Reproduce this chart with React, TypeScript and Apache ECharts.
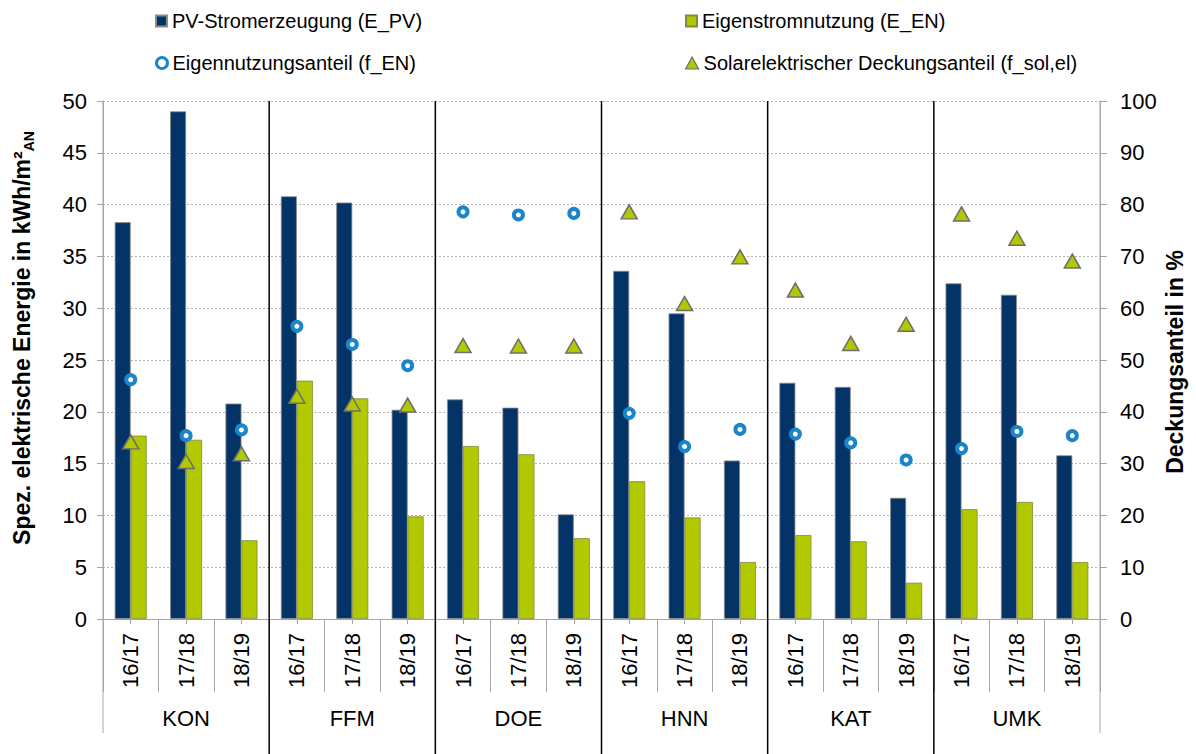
import React, { useEffect, useRef } from 'react';
import * as echarts from 'echarts';

const groups = ['KON', 'FFM', 'DOE', 'HNN', 'KAT', 'UMK'];
const years = ['16/17', '17/18', '18/19'];

const ePV = [38.3, 49.0, 20.8, 40.8, 40.2, 20.2, 21.2, 20.4, 10.1, 33.6, 29.5, 15.3, 22.8, 22.4, 11.7, 32.4, 31.3, 15.8];
const eEN = [17.7, 17.3, 7.6, 23.0, 21.3, 9.9, 16.7, 15.9, 7.8, 13.3, 9.8, 5.5, 8.1, 7.5, 3.5, 10.6, 11.3, 5.5];
const fEN = [46.2, 35.4, 36.5, 56.5, 53.0, 48.9, 78.6, 78.0, 78.3, 39.7, 33.3, 36.6, 35.7, 34.0, 30.7, 32.9, 36.2, 35.4];
const fSol = [34.2, 30.4, 31.9, 43.0, 41.5, 41.3, 52.8, 52.7, 52.7, 78.6, 60.9, 69.9, 63.5, 53.2, 56.9, 78.2, 73.5, 69.1];

const leftTicks = { min: 0, max: 50, interval: 5 };
const rightTicks = { min: 0, max: 100, interval: 10 };

const NAME_PV = 'PV-Stromerzeugung (E_PV)';
const NAME_EN = 'Eigenstromnutzung (E_EN)';
const NAME_FEN = 'Eigennutzungsanteil (f_EN)';
const NAME_FSOL = 'Solarelektrischer Deckungsanteil (f_sol,el)';

const FONT = '"Liberation Sans", Arial, sans-serif';
const BLUE = '#043467';
const GREEN = '#B2C800';
const RING = '#1A86C9';
const GRAY = '#A6A6A6';

export default function App() {
  const ref = useRef<HTMLDivElement>(null);

  useEffect(() => {
    if (!ref.current) return;
    const chart = echarts.init(ref.current, null, { renderer: 'svg' });

    const cats = groups.flatMap((g) => years.map((y) => g + '|' + y));
    const n = years.length;
    const boundaries: number[][] = [[0, -0.5, 1]];
    groups.forEach((g, i) => {
      const last = (i + 1) * n - 1;
      boundaries.push([last, 0.5, i === groups.length - 1 ? 1 : 0]);
    });

    const legendBase = {
      padding: 0,
      itemWidth: 11,
      itemHeight: 11,
      textStyle: { fontSize: 20, color: '#000', fontFamily: FONT },
      selectedMode: false,
    };

    const option: any = {
      animation: false,
      textStyle: { fontFamily: FONT },
      grid: { left: 103, right: 96, top: 101, bottom: 135 },
      legend: [
        { ...legendBase, data: [{ name: NAME_PV, icon: 'rect' }], left: 155, top: 11 },
        { ...legendBase, data: [{ name: NAME_EN, icon: 'rect' }], left: 685, top: 11 },
        { ...legendBase, data: [{ name: NAME_FEN, icon: 'circle' }], left: 155, top: 53, itemStyle: { borderWidth: 3 } },
        { ...legendBase, data: [{ name: NAME_FSOL, icon: 'triangle' }], left: 685, top: 53, itemWidth: 13, itemHeight: 12, itemStyle: { borderWidth: 1.2 } },
      ],
      xAxis: [
        {
          type: 'category',
          data: cats,
          position: 'bottom',
          axisLine: { show: true, lineStyle: { color: GRAY, width: 1 } },
          axisTick: { show: true, interval: 0, length: 73, lineStyle: { color: GRAY, width: 1 } },
          axisLabel: {
            interval: 0,
            rotate: 90,
            margin: 14,
            fontSize: 22,
            color: '#000',
            fontFamily: FONT,
            formatter: (v: string) => v.split('|')[1],
          },
          splitLine: { show: false },
        },
        {
          type: 'category',
          data: cats,
          position: 'bottom',
          axisLine: { show: false },
          axisTick: { show: true, alignWithLabel: true, interval: 0, length: 5, lineStyle: { color: GRAY } },
          axisLabel: { show: false },
          splitLine: { show: false },
        },
        {
          type: 'category',
          data: groups,
          position: 'bottom',
          axisLine: { show: false },
          axisTick: { show: false },
          axisLabel: { interval: 0, margin: 88, fontSize: 22, color: '#000', fontFamily: FONT },
          splitLine: { show: false },
        },
      ],
      yAxis: [
        {
          type: 'value',
          position: 'left',
          ...leftTicks,
          axisLine: { show: true, lineStyle: { color: GRAY } },
          axisTick: { show: true, length: 6, lineStyle: { color: GRAY } },
          axisLabel: { fontSize: 22, color: '#000', margin: 16, fontFamily: FONT },
          splitLine: { show: true, lineStyle: { color: '#B4B4B4', type: [2, 2], width: 1 } },
        },
        {
          type: 'value',
          position: 'right',
          ...rightTicks,
          axisLine: { show: true, lineStyle: { color: GRAY } },
          axisTick: { show: true, length: 7, lineStyle: { color: GRAY } },
          axisLabel: { fontSize: 22, color: '#000', margin: 20, fontFamily: FONT },
          splitLine: { show: false },
        },
      ],
      graphic: [
        {
          type: 'text',
          x: 22,
          y: 338,
          rotation: Math.PI / 2,
          style: {
            text: '{b|Spez. elektrische Energie in kWh/m²}{s|AN}',
            align: 'center',
            verticalAlign: 'middle',
            fill: '#000',
            rich: {
              b: { fontSize: 23, fontWeight: 'bold', fontFamily: FONT, fill: '#000', lineHeight: 28 },
              s: { fontSize: 14, fontWeight: 'bold', fontFamily: FONT, fill: '#000', lineHeight: 14, verticalAlign: 'bottom' },
            },
          },
        },
        {
          type: 'text',
          x: 1175,
          y: 362,
          rotation: Math.PI / 2,
          style: {
            text: 'Deckungsanteil in %',
            align: 'center',
            verticalAlign: 'middle',
            fontSize: 23,
            fontWeight: 'bold',
            fontFamily: FONT,
            fill: '#000',
          },
        },
      ],
      series: [
        {
          name: NAME_PV,
          type: 'bar',
          data: ePV,
          barWidth: 16,
          barGap: '0%',
          itemStyle: { color: BLUE, borderColor: '#8c8c8c', borderWidth: 0.8 },
        },
        {
          name: NAME_EN,
          type: 'bar',
          data: eEN,
          barWidth: 16,
          barGap: '0%',
          itemStyle: { color: GREEN, borderColor: '#7f8a3a', borderWidth: 0.8 },
        },
        {
          name: NAME_FSOL,
          type: 'scatter',
          yAxisIndex: 1,
          data: fSol.map((v, i) => [i, v]),
          symbol: 'triangle',
          symbolSize: [16, 14],
          itemStyle: { color: GREEN, borderColor: '#6e6e6e', borderWidth: 1.5, opacity: 1 },
          z: 4,
        },
        {
          name: NAME_FEN,
          type: 'scatter',
          yAxisIndex: 1,
          data: fEN.map((v, i) => [i, v]),
          symbol: 'circle',
          symbolSize: 9,
          itemStyle: { color: '#fff', borderColor: RING, borderWidth: 4, opacity: 1 },
          z: 5,
        },
        {
          type: 'custom',
          xAxisIndex: 0,
          yAxisIndex: 0,
          silent: true,
          clip: false,
          z: 3,
          data: boundaries,
          renderItem: (params: any, api: any) => {
            const cat = api.value(0);
            const side = api.value(1);
            const outer = api.value(2);
            const bw = api.size([1, 0])[0];
            const x = api.coord([cat, 0])[0] + side * bw;
            const cs = params.coordSys;
            const y2 = outer ? cs.y + cs.height + 114 : api.getHeight();
            return {
              type: 'line',
              shape: { x1: x, y1: cs.y, x2: x, y2 },
              style: { stroke: outer ? GRAY : '#000', lineWidth: outer ? 1 : 1.5 },
            };
          },
        },
      ],
    };

    chart.setOption(option);
    return () => chart.dispose();
  }, []);

  return (
    <div
      ref={ref}
      style={{ position: 'absolute', left: 0, top: 0, width: 1196, height: 754, background: '#fff' }}
    />
  );
}
